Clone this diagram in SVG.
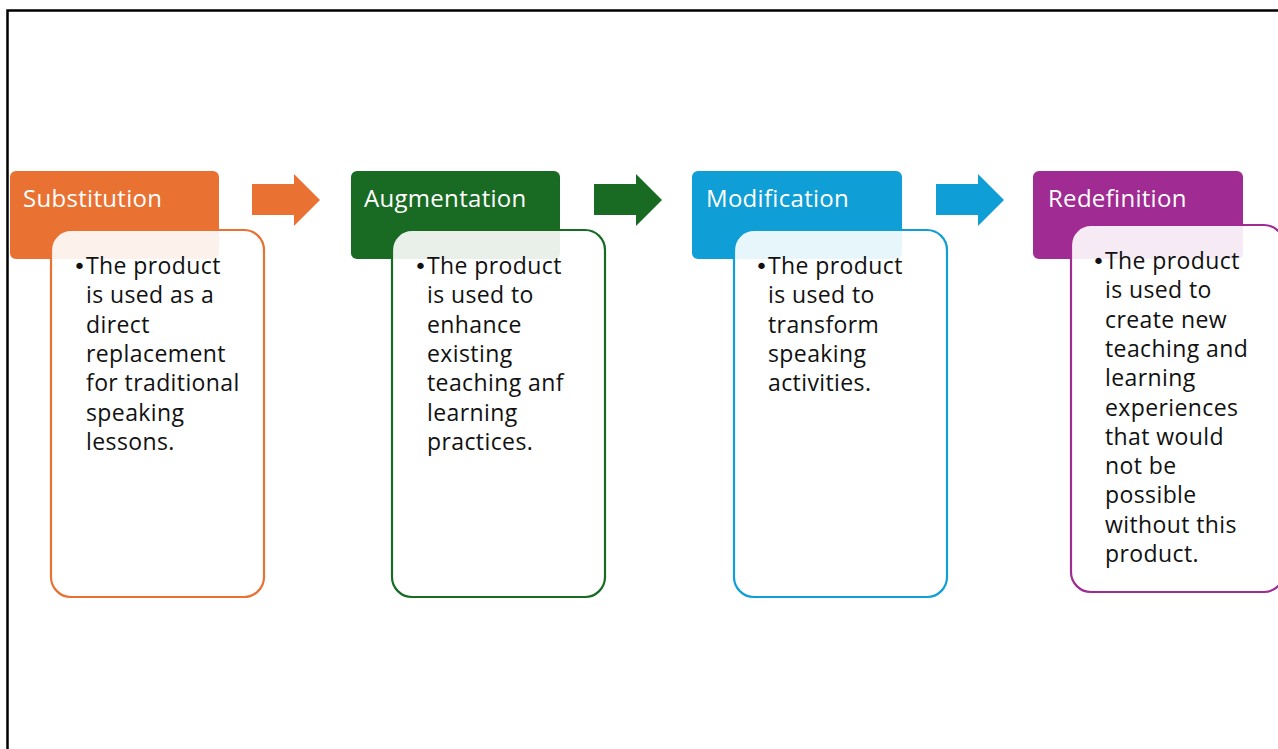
<svg xmlns="http://www.w3.org/2000/svg" width="1278" height="749" viewBox="0 0 1278 749">
<style>
.hdr{font-family:"Open Sans","Liberation Sans",sans-serif;font-size:24px;fill:#ffffff;letter-spacing:0.3px}
.body{font-family:"Open Sans","Liberation Sans",sans-serif;font-size:23px;fill:#111111;letter-spacing:0.4px}
.bul{font-family:"DejaVu Sans","Liberation Sans",sans-serif;font-size:22px;fill:#111111}
.card{fill:#ffffff;fill-opacity:0.9;stroke-width:2.2}
</style>
<rect x="0" y="0" width="1278" height="749" fill="#ffffff"/>
<path d="M7.5,749 V10.5 H1290" fill="none" stroke="#000000" stroke-width="2.5"/>

<g id="connectors">
<path d="M252,184 H294 V174 L320,200 L294,226 V215 H252 Z" fill="#E97132"/>
<path d="M594,184 H636 V174 L662,200 L636,226 V215 H594 Z" fill="#196B24"/>
<path d="M936,184 H978 V174 L1004,200 L978,226 V215 H936 Z" fill="#0F9ED5"/>
</g>

<g id="substitution">
<rect x="10" y="171" width="209" height="88" rx="6" fill="#E97132"/>
<text class="hdr" x="23" y="207">Substitution</text>
<rect class="card" x="51" y="230" width="213" height="367" rx="20" stroke="#E97132"/>
<text class="bul" x="73" y="274">•</text>
<text class="body"><tspan x="86" y="274">The product</tspan><tspan x="86" y="303.3">is used as a</tspan><tspan x="86" y="332.6">direct</tspan><tspan x="86" y="361.9">replacement</tspan><tspan x="86" y="391.2">for traditional</tspan><tspan x="86" y="420.5">speaking</tspan><tspan x="86" y="449.8">lessons.</tspan></text>
</g>

<g id="augmentation">
<rect x="351" y="171" width="209" height="88" rx="6" fill="#196B24"/>
<text class="hdr" x="364" y="207">Augmentation</text>
<rect class="card" x="392" y="230" width="213" height="367" rx="20" stroke="#196B24"/>
<text class="bul" x="414" y="274">•</text>
<text class="body"><tspan x="427" y="274">The product</tspan><tspan x="427" y="303.3">is used to</tspan><tspan x="427" y="332.6">enhance</tspan><tspan x="427" y="361.9">existing</tspan><tspan x="427" y="391.2">teaching anf</tspan><tspan x="427" y="420.5">learning</tspan><tspan x="427" y="449.8">practices.</tspan></text>
</g>

<g id="modification">
<rect x="692" y="171" width="210" height="88" rx="6" fill="#0F9ED5"/>
<text class="hdr" x="706" y="207">Modification</text>
<rect class="card" x="734" y="230" width="213" height="367" rx="20" stroke="#0F9ED5"/>
<text class="bul" x="755" y="274">•</text>
<text class="body"><tspan x="768" y="274">The product</tspan><tspan x="768" y="303.3">is used to</tspan><tspan x="768" y="332.6">transform</tspan><tspan x="768" y="361.9">speaking</tspan><tspan x="768" y="391.2">activities.</tspan></text>
</g>

<g id="redefinition">
<rect x="1033" y="171" width="210" height="88" rx="6" fill="#A02B93"/>
<text class="hdr" x="1048" y="207">Redefinition</text>
<rect class="card" x="1071" y="225" width="213" height="367" rx="20" stroke="#A02B93"/>
<text class="bul" x="1092" y="269">•</text>
<text class="body"><tspan x="1105" y="269">The product</tspan><tspan x="1105" y="298.3">is used to</tspan><tspan x="1105" y="327.6">create new</tspan><tspan x="1105" y="356.9">teaching and</tspan><tspan x="1105" y="386.2">learning</tspan><tspan x="1105" y="415.5">experiences</tspan><tspan x="1105" y="444.8">that would</tspan><tspan x="1105" y="474.1">not be</tspan><tspan x="1105" y="503.4">possible</tspan><tspan x="1105" y="532.7">without this</tspan><tspan x="1105" y="562">product.</tspan></text>
</g>
</svg>
